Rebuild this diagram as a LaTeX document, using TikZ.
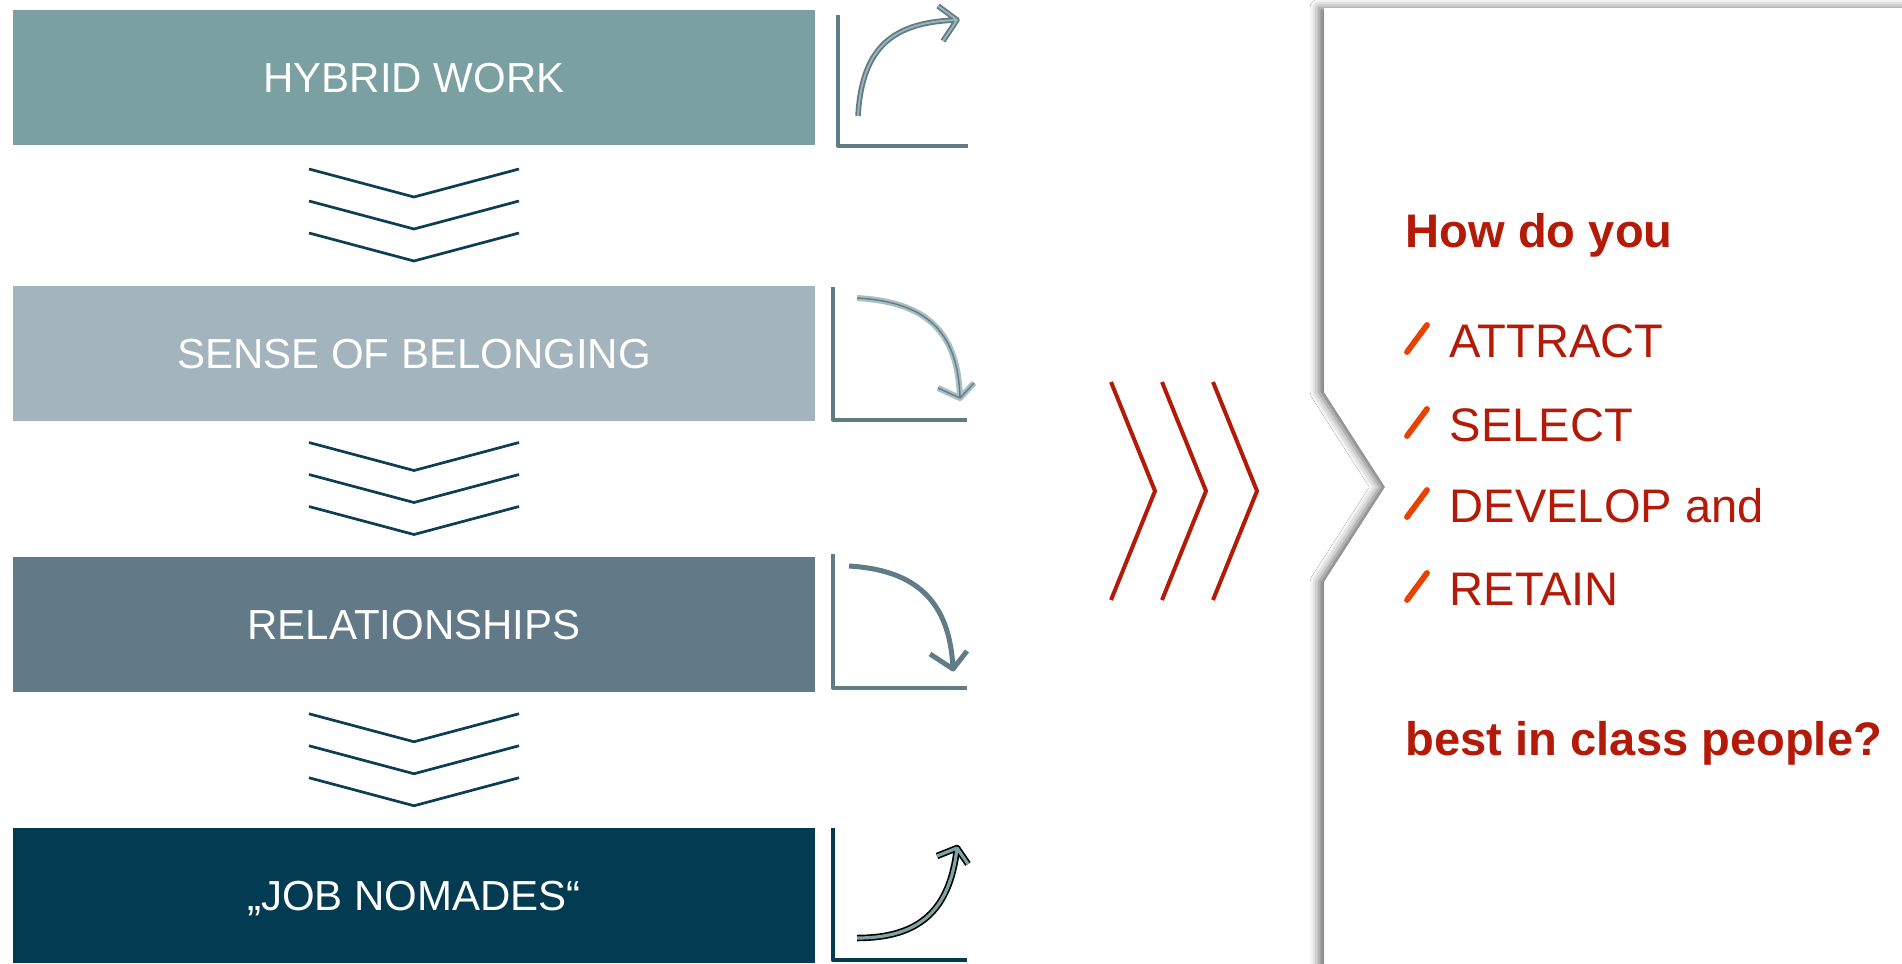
\documentclass[tikz,border=0pt]{standalone}
\usepackage{fontspec}
\setmainfont{Liberation Sans}
\usepackage{tikz}
\usetikzlibrary{calc,shadows.blur}
\definecolor{hwTeal}{RGB}{123,160,161}
\definecolor{hwMist}{RGB}{163,180,188}
\definecolor{hwSlate}{RGB}{98,122,136}
\definecolor{hwNavy}{RGB}{3,59,82}
\definecolor{hwChev}{RGB}{14,62,83}
\definecolor{hwIcon}{RGB}{95,124,135}
\definecolor{hwIconPale}{RGB}{158,182,186}
\definecolor{hwIconLight}{RGB}{168,191,195}
\definecolor{hwIconSea}{RGB}{127,164,166}
\definecolor{hwRed}{RGB}{180,26,8}
\definecolor{hwOrange}{RGB}{232,66,0}

\begin{document}
\begin{tikzpicture}[
  stage/.style={minimum width=8.02cm, minimum height=1.35cm, inner sep=0pt,
    text=white, text height=0.30cm, text depth=0pt, font=\fontsize{11.95}{14}\selectfont},
  chev/.style={hwChev, line width=0.027cm},
  axis/.style={hwIcon, line width=0.04cm},
  redchev/.style={hwRed, line width=0.04cm},
  lead/.style={anchor=base west, inner sep=0pt, text=hwRed, font=\fontsize{13.4}{16}\selectfont\bfseries},
  item/.style={anchor=base west, inner sep=0pt, text=hwRed, font=\fontsize{13.4}{16}\selectfont},
  tick/.style={hwOrange, line width=0.058cm, line cap=round},
  line join=round]
\useasboundingbox (0,0) rectangle (19.02,9.63);
\fill[white] (0,0) rectangle (19.02,9.63);

% stages on the left
\node[stage, fill=hwTeal] (hybrid) at (4.14,8.86) {HYBRID WORK};
\node[stage, fill=hwMist] (belong) at (4.14,6.10) {SENSE OF BELONGING};
\node[stage, fill=hwSlate] (relat) at (4.14,3.39) {RELATIONSHIPS};
\node[stage, fill=hwNavy] (nomad) at (4.14,0.675) {„JOB NOMADES“};

\foreach \a/\b in {hybrid/belong, belong/relat, relat/nomad} {
  \coordinate (mid) at ($(\a.south)!0.5!(\b.north)$);
  \foreach \k in {0,1,2}
    \draw[chev] ($(mid)+(-1.05,0.46-0.32*\k)$) -- ($(mid)+(0,0.18-0.32*\k)$) -- ($(mid)+(1.05,0.46-0.32*\k)$);
}

% trend icons
\draw[axis] (8.38,9.48) -- (8.38,8.17) -- (9.68,8.17);
\draw[hwIconPale, line width=0.018cm, preaction={draw=hwIcon, line width=0.055cm}]
  (8.58,8.47) .. controls (8.62,9.18) and (8.95,9.41) .. (9.57,9.43)
  (9.38,9.57) -- (9.57,9.43) -- (9.43,9.22);

\draw[axis] (8.33,6.76) -- (8.33,5.43) -- (9.67,5.43);
\draw[hwIcon, line width=0.014cm, preaction={draw=hwIconLight, line width=0.06cm}]
  (8.57,6.65) .. controls (9.25,6.61) and (9.58,6.33) .. (9.60,5.65)
  (9.38,5.75) -- (9.60,5.65) -- (9.74,5.80);

\draw[axis] (8.33,4.09) -- (8.33,2.75) -- (9.67,2.75);
\draw[hwIcon, line width=0.05cm]
  (8.49,3.97) .. controls (9.15,3.93) and (9.50,3.63) .. (9.53,2.94)
  (9.30,3.09) -- (9.53,2.94) -- (9.67,3.12);

\draw[axis, hwNavy, line width=0.045cm] (8.33,1.35) -- (8.33,0.03) -- (9.67,0.03);
\draw[hwIconSea, line width=0.032cm, preaction={draw=black, line width=0.065cm}]
  (8.57,0.25) .. controls (9.20,0.25) and (9.50,0.53) .. (9.57,1.15)
  (9.37,1.07) -- (9.57,1.15) -- (9.68,0.99);

% red chevrons
\foreach \x in {11.11,11.62,12.13}
  \draw[redchev, line join=miter] (\x,5.81) -- (\x+0.44,4.72) -- (\x,3.63);

% question panel
\fill[white, blur shadow={shadow xshift=-0.05cm, shadow yshift=0cm, shadow blur radius=0.09cm, shadow opacity=60}]
  (13.24,9.55) -- (19.30,9.55) -- (19.30,-0.3) -- (13.24,-0.3) -- (13.24,3.81)
  -- (13.85,4.76) -- (13.24,5.71) -- cycle;

\node[lead] (howdo) at (14.05,7.16) {How do you};
\foreach \word/\y [count=\i] in {ATTRACT/6.06, SELECT/5.22, DEVELOP and/4.41, RETAIN/3.58} {
  \node[item] (item\i) at (14.49,\y) {\word};
  \draw[tick] ($(item\i.base west)+(-0.42,0.05)$) -- ++(0.20,0.27);
}
\node[lead] (best) at (14.05,2.08) {best in class people?};
\end{tikzpicture}
\end{document}
